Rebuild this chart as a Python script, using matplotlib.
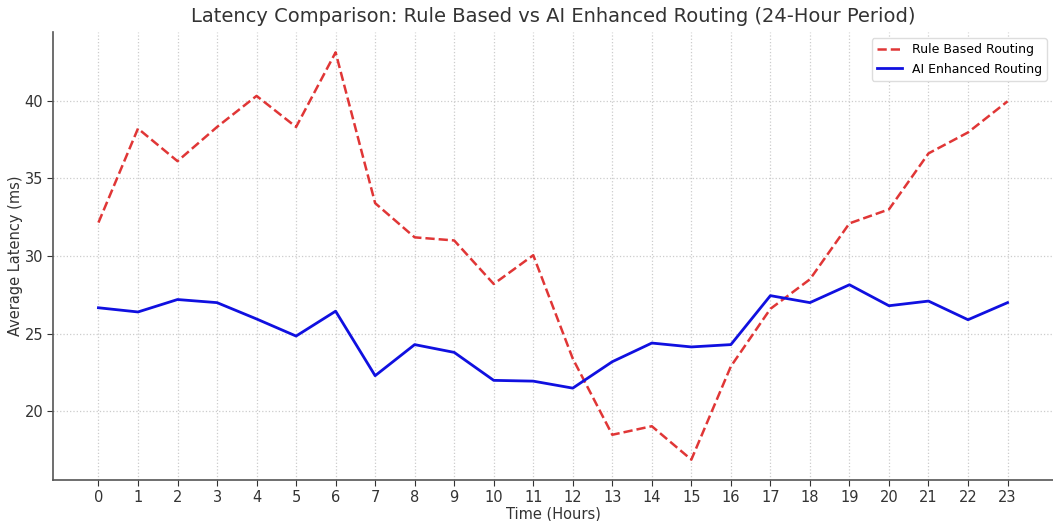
import numpy as np
import matplotlib
matplotlib.use("Agg")
import matplotlib.pyplot as plt

hours = list(range(24))

rule_based = [32.15, 38.2, 36.1, 38.3, 40.3, 38.3, 43.1, 33.4, 31.2, 31.0,
              28.2, 30.05, 23.4, 18.5, 19.05, 16.9, 22.9, 26.6, 28.5, 32.1,
              33.0, 36.6, 37.95, 39.95]
ai_enhanced = [26.67, 26.4, 27.2, 27.0, 25.95, 24.85, 26.45, 22.3, 24.3, 23.8,
               22.0, 21.95, 21.5, 23.2, 24.4, 24.15, 24.3, 27.45, 27.0, 28.15,
               26.8, 27.1, 25.9, 27.0]

fig = plt.figure(figsize=(10.53, 5.21), dpi=100)
ax = fig.add_axes([53/1053, 41/521, 1000/1053, 448/521])

ax.plot(hours, rule_based, color='#dd2020', linestyle='--', linewidth=1.8, alpha=0.9, label='Rule Based Routing')
ax.plot(hours, ai_enhanced, color='#1010e0', linestyle='-', linewidth=2.0, label='AI Enhanced Routing')

ax.set_xticks(hours)
ax.set_title('Latency Comparison: Rule Based vs AI Enhanced Routing (24-Hour Period)', fontsize=14, color='#333333', pad=7)
ax.set_xlabel('Time (Hours)', fontsize=10.5, color='#333333', labelpad=1)
ax.set_ylabel('Average Latency (ms)', fontsize=10.5, color='#333333', labelpad=1)
ax.tick_params(labelsize=10.5, colors='#333333', length=4, pad=3)
ax.grid(True, linestyle=':', color='#cccccc', linewidth=0.9)

for s in ['top', 'right']:
    ax.spines[s].set_visible(False)
for s in ['left', 'bottom']:
    ax.spines[s].set_color('#555555')
    ax.spines[s].set_linewidth(1.2)

ax.legend(loc='upper right', fontsize=9, framealpha=1, edgecolor='#dddddd')

plt.savefig('out.png', dpi=100)
